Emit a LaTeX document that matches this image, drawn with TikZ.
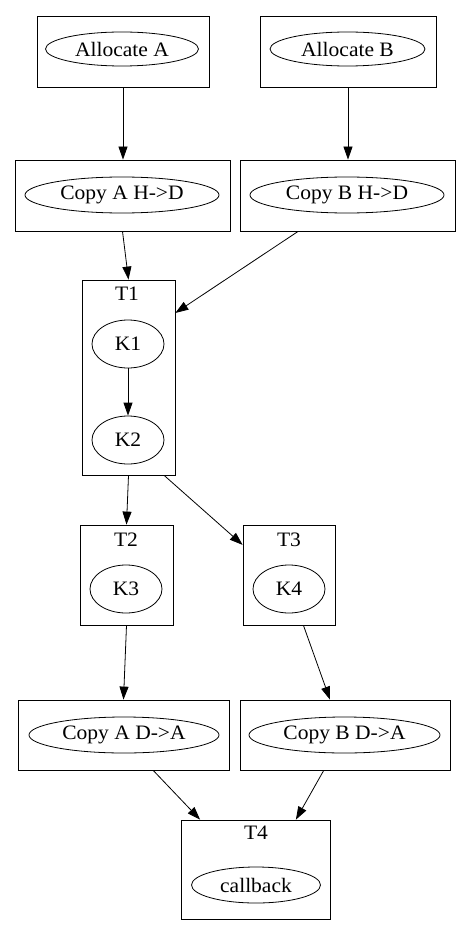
\documentclass[tikz,border=0pt]{standalone}
\usepackage{fontspec}
\setmainfont{Liberation Serif}[FakeStretch=1.05]
\usetikzlibrary{arrows.meta,shapes.geometric,positioning}

\begin{document}
\begin{tikzpicture}
		[x=1pt, y=-1pt, line width=0.8pt,
		elsty/.style={ellipse, draw, inner sep=0pt, font=\fontsize{20.5}{22}\selectfont},
		clsty/.style={rectangle, draw, inner sep=0pt},
		titsty/.style={inner sep=0pt, font=\fontsize{20.5}{22}\selectfont},
		arcsty/.style={-{Triangle[length=13pt,width=9pt]}}]
		\useasboundingbox (0,0) rectangle (472,936);
		% clusters
		\node (box aa) at (123,51.5) [clsty, minimum width=172, minimum height=71] {};
		\node (box ab) at (348,51.5) [clsty, minimum width=176, minimum height=71] {};
		\node (box cahd) at (122.5,195.5) [clsty, minimum width=215, minimum height=71] {};
		\node (box cbhd) at (347.5,195.5) [clsty, minimum width=215, minimum height=71] {};
		\node (t1) at (128.5,377.5) [clsty, minimum width=93, minimum height=195] {};
		\node (t2) at (126.5,575) [clsty, minimum width=93, minimum height=100] {};
		\node (t3) at (289,575) [clsty, minimum width=92, minimum height=100] {};
		\node (box cada) at (123.5,735) [clsty, minimum width=211, minimum height=70] {};
		\node (box cbda) at (345,735) [clsty, minimum width=210, minimum height=70] {};
		\node (t4) at (255.5,869.5) [clsty, minimum width=149, minimum height=99] {};
		
		% titles
		\node (title 1) at (127,294) [titsty] {T1};
		\node (title 2) at (126,540) [titsty] {T2};
		\node (title 3) at (289,540) [titsty] {T3};
		\node (title 4) at (256,833) [titsty] {T4};
		
		% tasks
		\node (alloc a) at (122,49) [elsty, minimum width=153, minimum height=34] {Allocate A};
		\node (alloc b) at (347.5,49) [elsty, minimum width=155, minimum height=34] {Allocate B};
		\node (copy a hd) at (122,195) [elsty, minimum width=194, minimum height=36] {Copy A H->D};
		\node (copy b hd) at (347,195) [elsty, minimum width=194, minimum height=36] {Copy B H->D};
		\node (k1) at (128,344) [elsty, minimum width=72, minimum height=48] {K1};
		\node (k2) at (128,440) [elsty, minimum width=72, minimum height=48] {K2};
		\node (k3) at (126,589) [elsty, minimum width=72, minimum height=48] {K3};
		\node (k4) at (289,589) [elsty, minimum width=72, minimum height=48] {K4};
		\node (copy a da) at (124,735) [elsty, minimum width=190, minimum height=36] {Copy A D->A};
		\node (copy b da) at (344.5,735) [elsty, minimum width=191, minimum height=36] {Copy B D->A};
		\node (cb) at (256,885) [elsty, minimum width=129, minimum height=36] {callback};
		
		\draw[arcsty] (box aa.south) -- (box cahd.north -| box aa.south);
		\draw[arcsty] (box ab.south) -- (box cbhd.north -| box ab.south);
		\draw[arcsty] (box cahd.south) -- (t1.north);
		\draw[arcsty] (box cbhd.216) -- (t1.54);
		\draw[arcsty] (k1) -- (k2);
		\draw[arcsty] (t1.south) -- (t2.north);
		\draw[arcsty] (t1.-70) -- (t3.147);
		\draw[arcsty] (t2.south) -- (box cada.north);
		\draw[arcsty] (t3.-74) -- (box cbda.113);
		\draw[arcsty] (box cada.-50) -- (t4.138);
		\draw[arcsty] (box cbda.-121) -- (t4.51);
	\end{tikzpicture}
\end{document}
